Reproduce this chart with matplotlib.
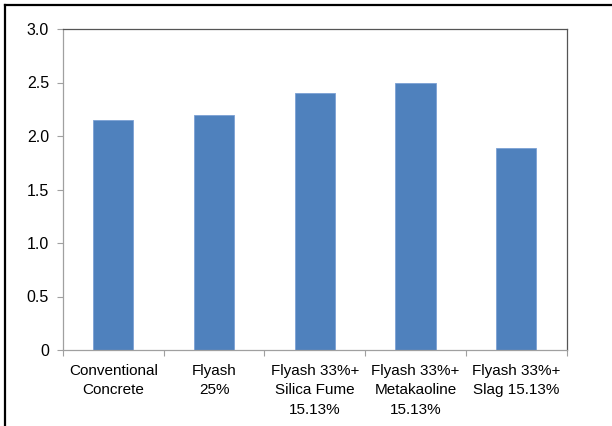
import matplotlib.pyplot as plt
from matplotlib.lines import Line2D
import numpy as np

plt.rcParams['font.family'] = ['Liberation Sans', 'DejaVu Sans']

categories = ['Conventional\nConcrete', 'Flyash\n25%', 'Flyash 33%+\nSilica Fume\n15.13%',
              'Flyash 33%+\nMetakaoline\n15.13%', 'Flyash 33%+\nSlag 15.13%']
values = [2.15, 2.2, 2.4, 2.5, 1.89]
yticks = [0, 0.5, 1.0, 1.5, 2.0, 2.5, 3.0]
ytick_labels = ['0', '0.5', '1.0', '1.5', '2.0', '2.5', '3.0']

fig = plt.figure(figsize=(6.12, 4.26), dpi=100)
ax = fig.add_axes([63 / 612, 1 - 350 / 426, (566.5 - 63) / 612, (350 - 29) / 426])

x = np.arange(len(categories))
ax.bar(x, values, width=0.4, color='#4F81BD', edgecolor='#7BA0D4', linewidth=0.6, zorder=2)

ax.set_xlim(-0.5, len(categories) - 0.5)
ax.set_ylim(0, 3.0)
ax.set_yticks(yticks)
ax.set_yticklabels(ytick_labels, fontsize=11.5)

# category labels centered, tick marks on the boundaries
ax.set_xticks(x)
ax.set_xticklabels(categories, fontsize=11, linespacing=1.5, va='top')
ax.tick_params(axis='x', length=0, pad=10)
ax.set_xticks(np.arange(-0.5, len(categories)), minor=True)
ax.tick_params(axis='x', which='minor', length=4, color='#A0A0A0', width=0.8)
ax.tick_params(axis='y', length=4, color='#A0A0A0', width=0.8, pad=6)

ax.spines['left'].set_color('#A0A0A0')
ax.spines['bottom'].set_color('#A0A0A0')
ax.spines['top'].set_color('#555555')
ax.spines['right'].set_color('#555555')
for s in ax.spines.values():
    s.set_linewidth(0.9)

# outer frame lines of the picture (left and top only)
fig.add_artist(Line2D([4.5 / 612, 4.5 / 612], [0, 1 - 5 / 426], color='black', linewidth=1.6,
                      transform=fig.transFigure))
fig.add_artist(Line2D([4.5 / 612, 1], [1 - 5 / 426, 1 - 5 / 426], color='black', linewidth=1.6,
                      transform=fig.transFigure))

fig.savefig('out.png', dpi=100)
